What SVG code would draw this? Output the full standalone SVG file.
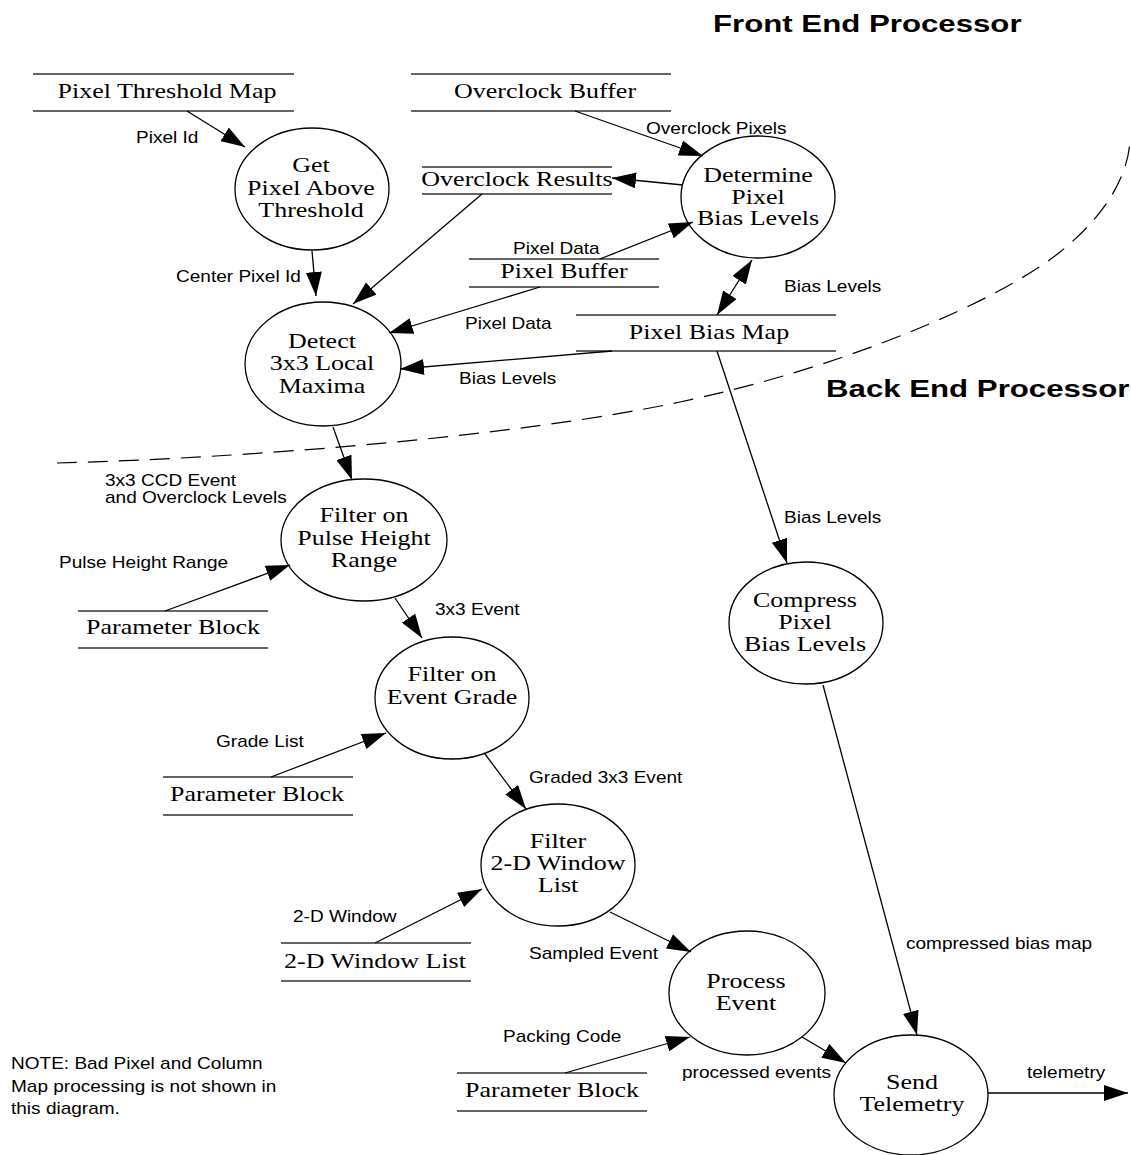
<svg xmlns="http://www.w3.org/2000/svg" width="1131" height="1155" viewBox="0 0 1131 1155">
  <defs>
    <marker id="arrow" markerUnits="userSpaceOnUse" markerWidth="24" markerHeight="16" refX="24" refY="8" orient="auto">
      <path d="M0,0 L24,8 L0,16 z" fill="#000"/>
    </marker>
    <marker id="arrow-start" markerUnits="userSpaceOnUse" markerWidth="24" markerHeight="16" refX="24" refY="8" orient="auto-start-reverse">
      <path d="M0,0 L24,8 L0,16 z" fill="#000"/>
    </marker>
  </defs>
  <style>
    .proc { fill: #fff; stroke: #000; stroke-width: 1.3; }
    .store { stroke: #333; stroke-width: 1.6; }
    .node { font-family: "Liberation Serif", "Times New Roman", serif; font-size: 20px; fill: #000; text-anchor: middle; }
    .lbl { font-family: "Liberation Sans", Arial, sans-serif; font-size: 17px; fill: #000; }
    .title { font-family: "Liberation Sans", Arial, sans-serif; font-size: 24px; font-weight: bold; fill: #000; }
    .flow { fill: none; stroke: #000; stroke-width: 1.3; marker-end: url(#arrow); }
    .boundary { fill: none; stroke: #000; stroke-width: 1.2; stroke-dasharray: 20 11; }
  </style>

  <rect width="1131" height="1155" fill="#fff"/>

  <!-- processor boundary -->
  <path class="boundary" d="M57,463 C250,458 520,436 680,402 C850,366 1000,300 1060,252 C1110,212 1130,170 1130,137"/>
  <text class="title" transform="matrix(1.3 0 0 1 713 32)">Front End Processor</text>
  <text class="title" transform="matrix(1.3 0 0 1 826 397)">Back End Processor</text>

  <!-- data stores -->
  <g id="store-pixel-threshold-map">
    <line class="store" x1="33" y1="74" x2="294" y2="74"/>
    <line class="store" x1="33" y1="111" x2="294" y2="111"/>
    <text class="node" transform="matrix(1.3 0 0 1 167 98)">Pixel Threshold Map</text>
  </g>
  <g id="store-overclock-buffer">
    <line class="store" x1="411" y1="74" x2="671" y2="74"/>
    <line class="store" x1="411" y1="111" x2="671" y2="111"/>
    <text class="node" transform="matrix(1.3 0 0 1 545 98)">Overclock Buffer</text>
  </g>
  <g id="store-overclock-results">
    <line class="store" x1="422" y1="167" x2="612" y2="167"/>
    <line class="store" x1="422" y1="194" x2="612" y2="194"/>
    <text class="node" transform="matrix(1.3 0 0 1 517 186)">Overclock Results</text>
  </g>
  <g id="store-pixel-buffer">
    <line class="store" x1="469" y1="259" x2="659" y2="259"/>
    <line class="store" x1="469" y1="287" x2="659" y2="287"/>
    <text class="node" transform="matrix(1.3 0 0 1 564 278)">Pixel Buffer</text>
  </g>
  <g id="store-pixel-bias-map">
    <line class="store" x1="576" y1="315" x2="836" y2="315"/>
    <line class="store" x1="576" y1="351" x2="836" y2="351"/>
    <text class="node" transform="matrix(1.3 0 0 1 709 339)">Pixel Bias Map</text>
  </g>
  <g id="store-parameter-block-1">
    <line class="store" x1="78" y1="611" x2="268" y2="611"/>
    <line class="store" x1="78" y1="648" x2="268" y2="648"/>
    <text class="node" transform="matrix(1.3 0 0 1 173 634)">Parameter Block</text>
  </g>
  <g id="store-parameter-block-2">
    <line class="store" x1="163" y1="777" x2="353" y2="777"/>
    <line class="store" x1="163" y1="815" x2="353" y2="815"/>
    <text class="node" transform="matrix(1.3 0 0 1 257 801)">Parameter Block</text>
  </g>
  <g id="store-2d-window-list">
    <line class="store" x1="281" y1="943" x2="471" y2="943"/>
    <line class="store" x1="281" y1="981" x2="471" y2="981"/>
    <text class="node" transform="matrix(1.3 0 0 1 375 968)">2-D Window List</text>
  </g>
  <g id="store-parameter-block-3">
    <line class="store" x1="457" y1="1073" x2="647" y2="1073"/>
    <line class="store" x1="457" y1="1111" x2="647" y2="1111"/>
    <text class="node" transform="matrix(1.3 0 0 1 552 1097)">Parameter Block</text>
  </g>

  <!-- processes -->
  <g id="get-pixel-above-threshold">
    <ellipse class="proc" cx="312" cy="189" rx="77" ry="61"/>
    <text class="node" transform="matrix(1.3 0 0 1 311 172)"><tspan x="0" y="0">Get</tspan><tspan x="0" y="23">Pixel Above</tspan><tspan x="0" y="45">Threshold</tspan></text>
  </g>
  <g id="determine-pixel-bias-levels">
    <ellipse class="proc" cx="758" cy="197" rx="77" ry="61"/>
    <text class="node" transform="matrix(1.3 0 0 1 758 182)"><tspan x="0" y="0">Determine</tspan><tspan x="0" y="22">Pixel</tspan><tspan x="0" y="43">Bias Levels</tspan></text>
  </g>
  <g id="detect-local-maxima">
    <ellipse class="proc" cx="323" cy="364" rx="78" ry="62"/>
    <text class="node" transform="matrix(1.3 0 0 1 322 348)"><tspan x="0" y="0">Detect</tspan><tspan x="0" y="22">3x3 Local</tspan><tspan x="0" y="45">Maxima</tspan></text>
  </g>
  <g id="filter-pulse-height">
    <ellipse class="proc" cx="364" cy="540" rx="83" ry="61"/>
    <text class="node" transform="matrix(1.3 0 0 1 364 522)"><tspan x="0" y="0">Filter on</tspan><tspan x="0" y="23">Pulse Height</tspan><tspan x="0" y="45">Range</tspan></text>
  </g>
  <g id="filter-event-grade">
    <ellipse class="proc" cx="452" cy="698" rx="77" ry="61"/>
    <text class="node" transform="matrix(1.3 0 0 1 452 681)"><tspan x="0" y="0">Filter on</tspan><tspan x="0" y="23">Event Grade</tspan></text>
  </g>
  <g id="filter-2d-window">
    <ellipse class="proc" cx="558" cy="865" rx="77" ry="61"/>
    <text class="node" transform="matrix(1.3 0 0 1 558 848)"><tspan x="0" y="0">Filter</tspan><tspan x="0" y="22">2-D Window</tspan><tspan x="0" y="44">List</tspan></text>
  </g>
  <g id="compress-pixel-bias-levels">
    <ellipse class="proc" cx="806" cy="623" rx="77" ry="61"/>
    <text class="node" transform="matrix(1.3 0 0 1 805 607)"><tspan x="0" y="0">Compress</tspan><tspan x="0" y="22">Pixel</tspan><tspan x="0" y="44">Bias Levels</tspan></text>
  </g>
  <g id="process-event">
    <ellipse class="proc" cx="747" cy="993" rx="78" ry="62"/>
    <text class="node" transform="matrix(1.3 0 0 1 746 988)"><tspan x="0" y="0">Process</tspan><tspan x="0" y="22">Event</tspan></text>
  </g>
  <g id="send-telemetry">
    <ellipse class="proc" cx="911" cy="1095" rx="77" ry="60"/>
    <text class="node" transform="matrix(1.3 0 0 1 912 1089)"><tspan x="0" y="0">Send</tspan><tspan x="0" y="22">Telemetry</tspan></text>
  </g>

  <!-- data flows -->
  <g id="connectors">
    <line class="flow" x1="187" y1="111" x2="245" y2="147"/>
    <line class="flow" x1="312" y1="251" x2="316" y2="296"/>
    <line class="flow" x1="482" y1="194" x2="353" y2="304"/>
    <line class="flow" x1="540" y1="287" x2="389" y2="333"/>
    <line class="flow" x1="612" y1="351" x2="400" y2="369"/>
    <line class="flow" x1="575" y1="111" x2="703" y2="156"/>
    <line class="flow" x1="683" y1="185" x2="612" y2="178"/>
    <line class="flow" x1="600" y1="259" x2="693" y2="222"/>
    <line class="flow" x1="752" y1="260" x2="717" y2="315" style="marker-start:url(#arrow-start)"/>
    <line class="flow" x1="717" y1="351" x2="787" y2="563"/>
    <line class="flow" x1="333" y1="427" x2="352" y2="480"/>
    <line class="flow" x1="165" y1="611" x2="290" y2="565"/>
    <line class="flow" x1="395" y1="598" x2="422" y2="638"/>
    <line class="flow" x1="271" y1="777" x2="386" y2="733"/>
    <line class="flow" x1="485" y1="754" x2="526" y2="809"/>
    <line class="flow" x1="375" y1="943" x2="482" y2="889"/>
    <line class="flow" x1="610" y1="912" x2="691" y2="952"/>
    <line class="flow" x1="565" y1="1073" x2="690" y2="1037"/>
    <line class="flow" x1="802" y1="1037" x2="846" y2="1063"/>
    <line class="flow" x1="823" y1="685" x2="917" y2="1035"/>
    <line class="flow" x1="988" y1="1093" x2="1128" y2="1093"/>
  </g>

  <!-- flow labels -->
  <g id="flow-labels">
    <text class="lbl" transform="matrix(1.12 0 0 1 136 143)">Pixel Id</text>
    <text class="lbl" transform="matrix(1.12 0 0 1 176 282)">Center Pixel Id</text>
    <text class="lbl" transform="matrix(1.12 0 0 1 646 134)">Overclock Pixels</text>
    <text class="lbl" transform="matrix(1.12 0 0 1 513 254)">Pixel Data</text>
    <text class="lbl" transform="matrix(1.12 0 0 1 784 292)">Bias Levels</text>
    <text class="lbl" transform="matrix(1.12 0 0 1 465 329)">Pixel Data</text>
    <text class="lbl" transform="matrix(1.12 0 0 1 459 384)">Bias Levels</text>
    <text class="lbl" transform="matrix(1.12 0 0 1 784 523)">Bias Levels</text>
    <text class="lbl" transform="matrix(1.12 0 0 1 105 486)"><tspan x="0" y="0">3x3 CCD Event</tspan><tspan x="0" y="17">and Overclock Levels</tspan></text>
    <text class="lbl" transform="matrix(1.12 0 0 1 59 568)">Pulse Height Range</text>
    <text class="lbl" transform="matrix(1.12 0 0 1 435 615)">3x3 Event</text>
    <text class="lbl" transform="matrix(1.12 0 0 1 216 747)">Grade List</text>
    <text class="lbl" transform="matrix(1.12 0 0 1 529 783)">Graded 3x3 Event</text>
    <text class="lbl" transform="matrix(1.12 0 0 1 293 922)">2-D Window</text>
    <text class="lbl" transform="matrix(1.12 0 0 1 529 959)">Sampled Event</text>
    <text class="lbl" transform="matrix(1.12 0 0 1 503 1042)">Packing Code</text>
    <text class="lbl" transform="matrix(1.12 0 0 1 682 1078)">processed events</text>
    <text class="lbl" transform="matrix(1.12 0 0 1 906 949)">compressed bias map</text>
    <text class="lbl" transform="matrix(1.12 0 0 1 1027 1078)">telemetry</text>
  </g>

  <text class="lbl" transform="matrix(1.12 0 0 1 11 1069)"><tspan x="0" y="0">NOTE: Bad Pixel and Column</tspan><tspan x="0" y="23">Map processing is not shown in</tspan><tspan x="0" y="45">this diagram.</tspan></text>
</svg>
